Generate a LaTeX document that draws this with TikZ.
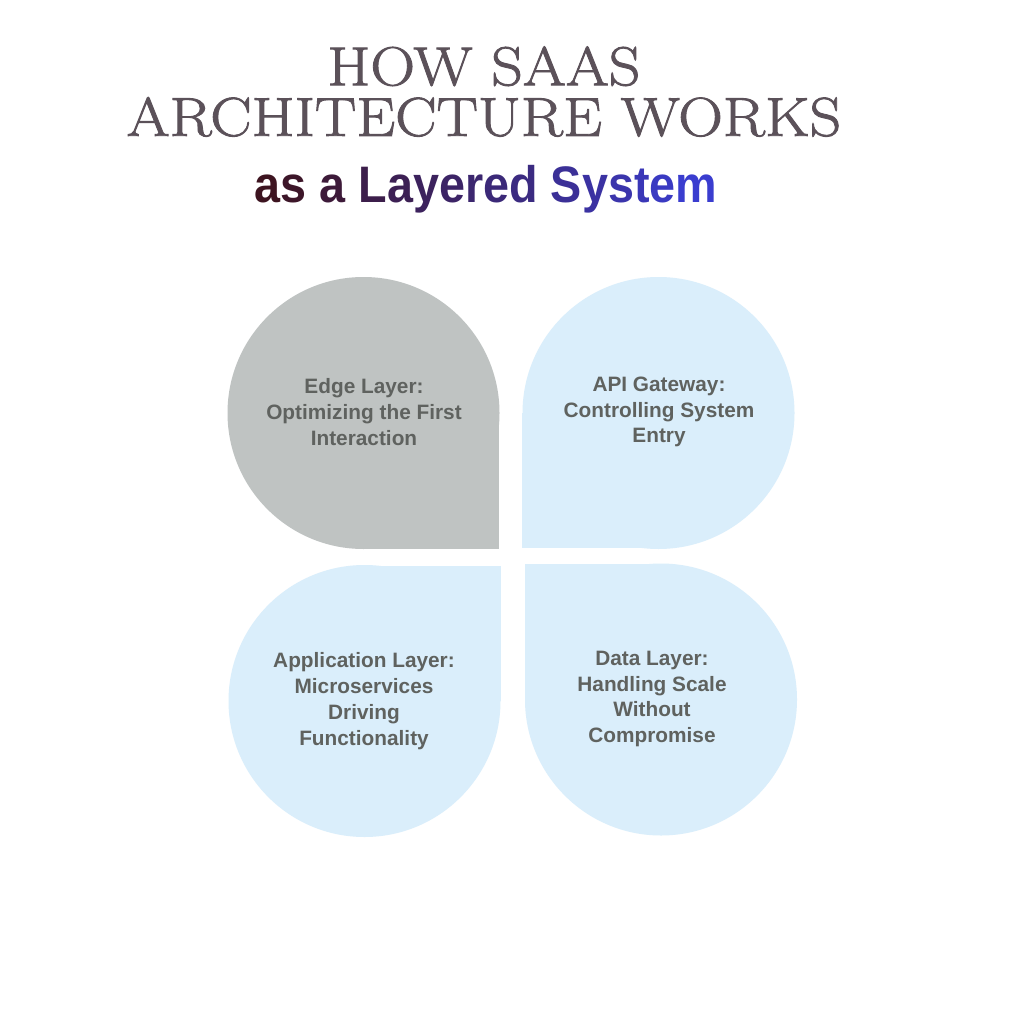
\documentclass[tikz,border=0pt]{standalone}
\usepackage{fontspec}
\usepackage{tikz}
\newfontfamily\bodysans{Liberation Sans}
\newfontfamily\headsans{Liberation Sans}[FakeStretch=0.91]
\newfontfamily\headserif{Latin Modern Roman}[FakeBold=1.6, FakeStretch=1.13]
\definecolor{titlegray}{HTML}{5B5159}
\definecolor{petalgray}{HTML}{BFC3C2}
\definecolor{petalblue}{HTML}{DAEEFB}
\definecolor{labelgray}{HTML}{5F625F}
\definecolor{gradA}{HTML}{3D1420}
\definecolor{gradB}{HTML}{3A3ED4}
\newcommand{\gc}[2]{\textcolor{gradB!#1!gradA}{#2}}
\tikzset{petaltext/.style={align=center, text=labelgray, font=\bodysans\bfseries\fontsize{14.8}{18.4}\selectfont}}
\tikzset{titletext/.style={align=center, inner sep=0pt, text=titlegray, font=\headserif\fontsize{39}{36}\selectfont}}

\begin{document}
\begin{tikzpicture}[x=0.025cm, y=-0.025cm]
    \fill[white] (0,0) rectangle (1024,1024);
    \useasboundingbox (0,0) rectangle (1024,1024);
    % heading
    \node[titletext, anchor=south] (title) at (484,137) {HOW SAAS\\ARCHITECTURE WORKS};
    \node[anchor=base, font=\headsans\bfseries\fontsize{36.5}{44}\selectfont] (subtitle) at (486,203)
        {\gc{0}{a}\gc{5}{s} \gc{14}{a} \gc{24}{L}\gc{29}{a}\gc{34}{y}\gc{39}{e}\gc{44}{r}\gc{49}{e}\gc{54}{d} \gc{66}{S}\gc{72}{y}\gc{78}{s}\gc{84}{t}\gc{90}{e}\gc{97}{m}};
    % the four petals: a disc plus the square quadrant with the sharp corner
    \fill[petalgray] (363.5,413) circle (136);
    \fill[petalgray] (363.5,413) rectangle (499,549);
    \fill[petalblue] (658.5,413) circle (136);
    \fill[petalblue] (658.5,413) rectangle (522,548);
    \fill[petalblue] (364.5,701) circle (136);
    \fill[petalblue] (364.5,701) rectangle (501,566);
    \fill[petalblue] (661,699.5) circle (136);
    \fill[petalblue] (661,699.5) rectangle (525,564);
    \node[petaltext] (edge) at (364,412) {Edge Layer:\\Optimizing the First\\Interaction};
    \node[petaltext] (gateway) at (659,412) {API Gateway:\\Controlling System\\Entry};
    \node[petaltext] (app) at (364,701) {Application Layer:\\Microservices\\Driving\\Functionality};
    \node[petaltext] (data) at (652,699) {Data Layer:\\Handling Scale\\Without\\Compromise};
\end{tikzpicture}
\end{document}
